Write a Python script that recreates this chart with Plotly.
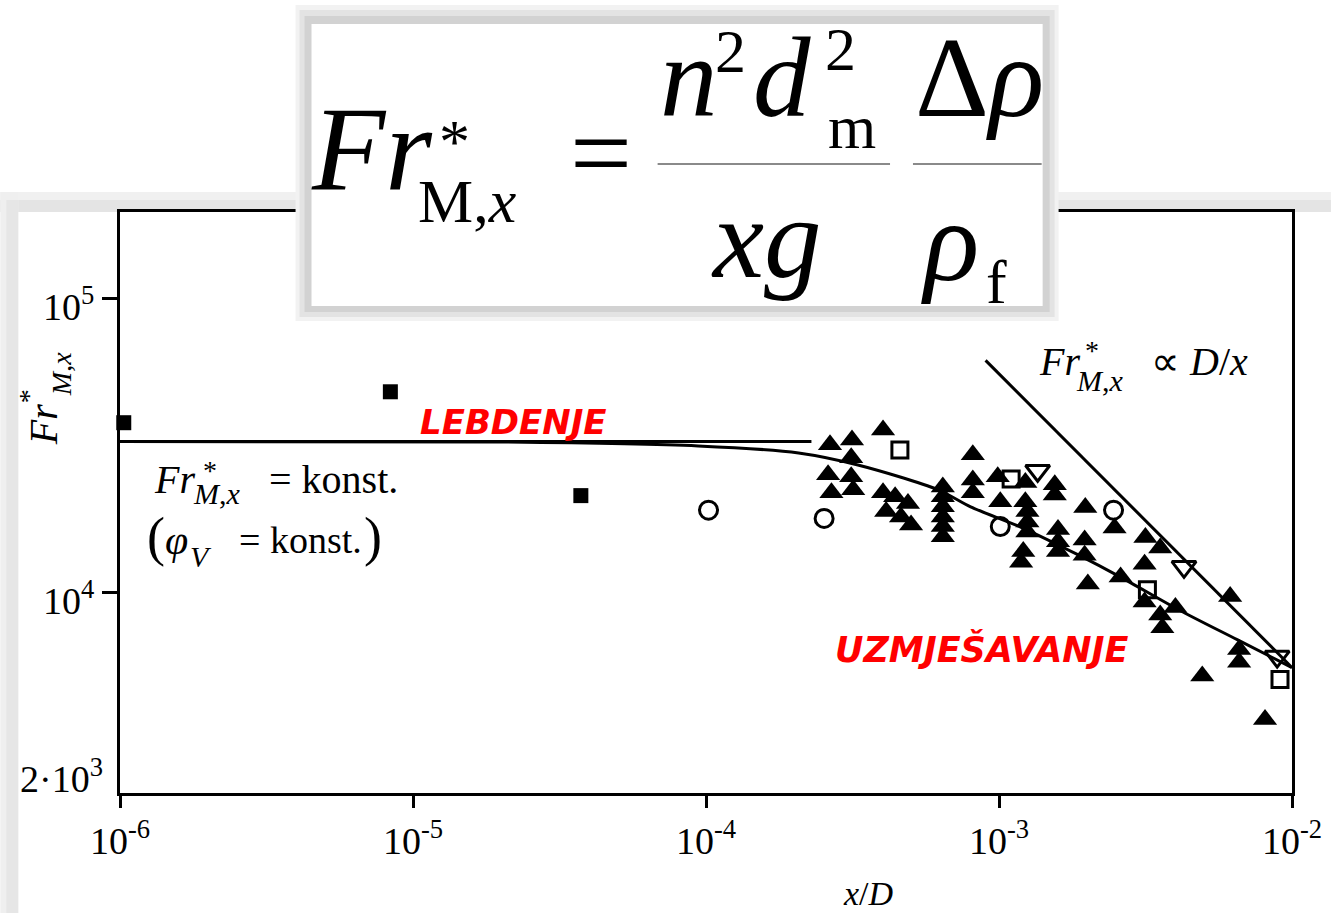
import plotly.graph_objects as go

# ---------------- data (x/D, Fr*_M,x) ----------------
# constant-Froude (suspension) limit
susp_x = [1e-6, 2.29e-4]
susp_y = [32700, 32700]

# correlation curve through the mixing data
fit_x = [1e-6, 2.0e-5, 9.4e-5, 2.07e-4, 3.3e-4, 6.2e-4, 8.0e-4, 1.19e-3,
         1.85e-3, 2.6e-3, 4.1e-3, 6.5e-3, 1e-2]
fit_y = [32700, 32600, 31600, 29900, 27200, 22400, 19600, 16700,
         13500, 11300, 8750, 6920, 5560]

# Fr* ~ D/x asymptote
asym_x = [9.0e-4, 1e-2]
asym_y = [61800, 5560]

sq_filled_x = [1.03e-6, 8.37e-6, 3.74e-5]
sq_filled_y = [37900, 48300, 21400]

circ_x = [1.02e-4, 2.53e-4, 1.01e-3, 2.46e-3]
circ_y = [19100, 17900, 16800, 19100]

sq_open_x = [4.59e-4, 1.10e-3, 3.21e-3, 9.1e-3]
sq_open_y = [30600, 24400, 10240, 5060]

tri_down_x = [1.355e-3, 4.28e-3, 8.9e-3]
tri_down_y = [26000, 12250, 6060]

tri_up_x = [2.65e-4, 3.15e-4, 4.02e-4, 3.13e-4, 2.61e-4, 3.13e-4, 2.68e-4, 3.18e-4,
            4.02e-4, 4.42e-4, 4.89e-4, 4.12e-4, 4.63e-4, 5.01e-4,
            6.43e-4, 6.43e-4, 6.43e-4, 6.43e-4, 6.43e-4, 6.43e-4,
            8.14e-4, 8.14e-4, 8.14e-4, 9.90e-4, 1.01e-3,
            1.23e-3, 1.23e-3, 1.25e-3, 1.25e-3, 1.25e-3, 1.21e-3, 1.19e-3,
            1.55e-3, 1.55e-3, 1.59e-3, 1.59e-3, 1.59e-3,
            1.97e-3, 1.96e-3, 1.96e-3, 2.01e-3, 2.48e-3, 2.60e-3,
            3.16e-3, 3.55e-3, 3.14e-3, 3.14e-3, 3.55e-3, 3.61e-3, 4.00e-3,
            6.15e-3, 6.60e-3, 6.60e-3, 4.94e-3, 8.09e-3]
tri_up_y = [31900, 33100, 35800, 28800, 25200, 24800, 21900, 22400,
            21900, 21200, 20100, 18900, 18100, 17000,
            22900, 21200, 19600, 18100, 16800, 15500,
            29500, 24200, 21900, 24800, 20400,
            23700, 20400, 18900, 17400, 16100, 13800, 12700,
            23300, 21500, 16400, 14900, 13800,
            19500, 15100, 13400, 10700, 16600, 11300,
            15400, 14200, 12500, 9300, 8400, 7600, 8900,
            9700, 6400, 5800, 5200, 3700]

x_tick_vals = [1e-6, 1e-5, 1e-4, 1e-3, 1e-2]
x_tick_text = ["10<sup>-6</sup>", "10<sup>-5</sup>", "10<sup>-4</sup>",
               "10<sup>-3</sup>", "10<sup>-2</sup>"]
y_tick_vals = [1e4, 1e5]
y_tick_text = ["10<sup>4</sup>", "10<sup>5</sup>"]

# ---------------- page geometry ----------------
W, H = 1334, 913
L, R, T, B = 120, 1295, 212, 793
SERIF = "Liberation Serif"
SANS = "DejaVu Sans"


def px(x):
    return (x - L) / (R - L)


def py(y):
    return (B - y) / (B - T)


annotations = []
shapes = []


def label(x, y, text, size, xanchor="left", family=SERIF, color="black", angle=0):
    annotations.append(dict(
        xref="paper", yref="paper", x=px(x), y=py(y), text=text, showarrow=False,
        xanchor=xanchor, yanchor="middle", textangle=angle, borderpad=0,
        font=dict(family=family, size=size, color=color)))


def box(x0, y0, x1, y1, fill, layer="below"):
    shapes.append(dict(type="rect", xref="paper", yref="paper",
                       x0=px(x0), x1=px(x1), y0=py(y1), y1=py(y0),
                       fillcolor=fill, line=dict(width=0), layer=layer))


def hline(x0, x1, y, color, width, layer="above"):
    shapes.append(dict(type="line", xref="paper", yref="paper",
                       x0=px(x0), x1=px(x1), y0=py(y), y1=py(y),
                       line=dict(color=color, width=width), layer=layer))


# frame shadow behind the chart
box(0, 192, W, 212, "#f0f0f0")
box(0, 200, W, 212, "#e4e4e4")
box(0, 192, 18, H, "#efefef")
box(6, 200, 18, H, "#e6e6e6")

# formula panel with shadow
box(296, 5, 1061, 321, "#f2f2f2", "above")
box(300, 10, 1057, 317, "#e3e3e3", "above")
box(305, 16, 1052, 312, "#d2d2d2", "above")
box(312, 24, 1045, 306, "#ffffff", "above")
hline(659, 892, 164, "#8a8a8a", 2)
hline(915, 1044, 164, "#8a8a8a", 2)

# formula text
label(310, 149, "<i>Fr</i>", 120)
label(455, 141, "*", 62, xanchor="center")
label(418, 201, "M,<i>x</i>", 62)
label(602, 153, "=", 110, xanchor="center")
label(660, 78, "<i>n</i>", 115)
label(716, 51, "2", 62)
label(754, 78, "<i>d</i>", 115)
label(826, 49, "2", 62)
label(829, 127, "m", 62)
label(712, 238, "<i>xg</i>", 115)
label(916, 78, "Δ<i>ρ</i>", 115)
label(922, 241, "<i>ρ</i>", 115)
label(987, 282, "f", 62)

# constant Froude note
label(153, 479, "<i>Fr</i>", 40)
label(210, 470, "*", 28, xanchor="center")
label(192, 494, "<i>M</i>,<i>x</i>", 30)
label(268, 479, "= konst.", 40)
label(146, 537, "(", 54)
label(164, 540, "<i>φ</i>", 42)
label(189, 556, "<i>V</i>", 30)
label(238, 540, "= konst.", 38)
label(364, 537, ")", 54)

# asymptote note
label(1040, 361, "<i>Fr</i>", 40)
label(1094, 350, "*", 28, xanchor="center")
label(1077, 380, "<i>M</i>,<i>x</i>", 30)
label(1153, 361, "∝ <i>D</i>/<i>x</i>", 40)

# regime labels
label(515, 422, "<b><i>LEBDENJE</i></b>", 34, xanchor="center", family=SANS, color="#ff0000")
label(984, 649, "<b><i>UZMJEŠAVANJE</i></b>", 35, xanchor="center", family=SANS, color="#ff0000")

# axis titles and bottom y label
label(43, 425, "<i>Fr</i>", 40, xanchor="center", angle=-90)
label(61, 374, "<i>M</i>,<i>x</i>", 28, xanchor="center", angle=-90)
label(28, 396, "*", 28, xanchor="center", angle=-90)
label(870, 893, "<i>x</i>/<i>D</i>", 34, xanchor="center")
label(104, 776, "2·10<sup>3</sup>", 38, xanchor="right")

fig = go.Figure()

line_style = dict(color="black", width=3)
fig.add_trace(go.Scatter(x=susp_x, y=susp_y, mode="lines", line=line_style))
fig.add_trace(go.Scatter(x=fit_x, y=fit_y, mode="lines",
                         line=dict(color="black", width=3, shape="spline", smoothing=0.8)))
fig.add_trace(go.Scatter(x=asym_x, y=asym_y, mode="lines", line=line_style))

fig.add_trace(go.Scatter(x=tri_up_x, y=tri_up_y, mode="markers", cliponaxis=False,
                         marker=dict(symbol="triangle-up", size=21, color="black",
                                     line=dict(width=0))))
fig.add_trace(go.Scatter(x=sq_filled_x, y=sq_filled_y, mode="markers", cliponaxis=False,
                         marker=dict(symbol="square", size=15, color="black",
                                     line=dict(width=0))))
fig.add_trace(go.Scatter(x=circ_x, y=circ_y, mode="markers", cliponaxis=False,
                         marker=dict(symbol="circle-open", size=18, color="black",
                                     line=dict(width=3))))
fig.add_trace(go.Scatter(x=sq_open_x, y=sq_open_y, mode="markers", cliponaxis=False,
                         marker=dict(symbol="square-open", size=16, color="black",
                                     line=dict(width=3))))
fig.add_trace(go.Scatter(x=tri_down_x, y=tri_down_y, mode="markers", cliponaxis=False,
                         marker=dict(symbol="triangle-down-open", size=21, color="black",
                                     line=dict(width=3))))

axis_common = dict(showline=True, linecolor="black", linewidth=3, mirror=True,
                   showgrid=False, zeroline=False, ticks="outside", tickwidth=3,
                   tickcolor="black",
                   tickfont=dict(family=SERIF, size=38, color="black"))

fig.update_xaxes(type="log", range=[-6, -2], tickvals=x_tick_vals, ticktext=x_tick_text,
                 ticklen=12, **axis_common)
fig.update_yaxes(type="log", range=[3.318, 5.296], tickvals=y_tick_vals, ticktext=y_tick_text,
                 ticklen=15, ticklabelshift=8, **axis_common)

fig.update_layout(
    width=W, height=H, autosize=False,
    margin=dict(l=L, r=W - R, t=T, b=H - B, pad=0),
    paper_bgcolor="white", plot_bgcolor="white",
    showlegend=False,
    annotations=annotations, shapes=shapes,
)

fig.write_html("out.html")
